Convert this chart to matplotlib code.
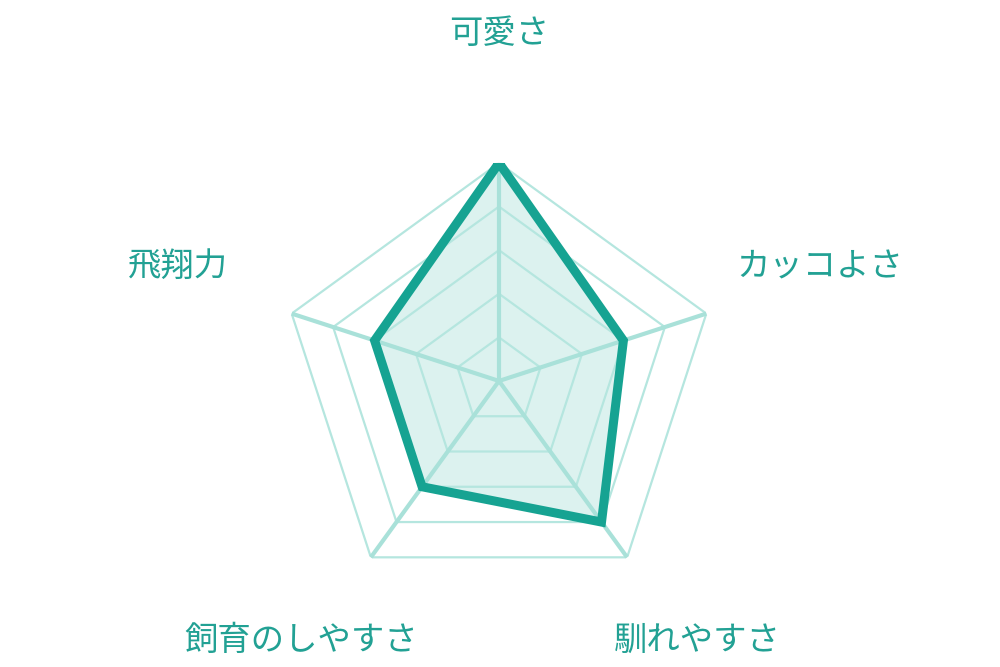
import numpy as np
import matplotlib.pyplot as plt

plt.rcParams['font.family'] = ['Noto Sans CJK JP', 'DejaVu Sans']

# data
categories = ['可愛さ', 'カッコよさ', '馴れやすさ', '飼育のしやすさ', '飛翔力']
values = [5, 3, 4, 3, 3]
levels = [1, 2, 3, 4, 5]

# label placement (polar angle in degrees, radius)
label_theta = [90, 19.6, -52.6, -127.4, 160.4]
label_r = [7.98, 7.81, 7.48, 7.48, 7.81]

line_color = '#16a392'
grid_color = '#b5e6df'
spoke_color = '#a9e1d9'
fill_color = '#dcf2ef'
text_color = '#22a194'

n = len(categories)
theta = np.pi / 2 - np.arange(n) * 2 * np.pi / n
theta_closed = np.append(theta, theta[0])

fig = plt.figure(figsize=(10, 6.67), dpi=100)
ax = fig.add_axes([0.499 - 0.218, 0.4288 - 0.3268, 0.436, 0.6537], polar=True)
ax.set_ylim(0, 5)
ax.axis('off')

# filled area
vals_closed = np.append(values, values[0])
ax.fill(theta_closed, vals_closed, color=fill_color, zorder=1)

# pentagon grid
for lv in levels:
    ax.plot(theta_closed, [lv] * (n + 1), color=grid_color, lw=1.6, zorder=2)

# spokes
for t in theta:
    ax.plot([t, t], [0, 5], color=spoke_color, lw=3, zorder=2)

# data outline
ax.plot(theta_closed, vals_closed, color=line_color, lw=6.5, zorder=3,
        solid_joinstyle='miter')

# labels
for lab, t, r in zip(categories, label_theta, label_r):
    ax.text(np.deg2rad(t), r, lab, ha='center', va='center', fontsize=24,
            color=text_color, clip_on=False)

fig.savefig('out.png', dpi=100)
